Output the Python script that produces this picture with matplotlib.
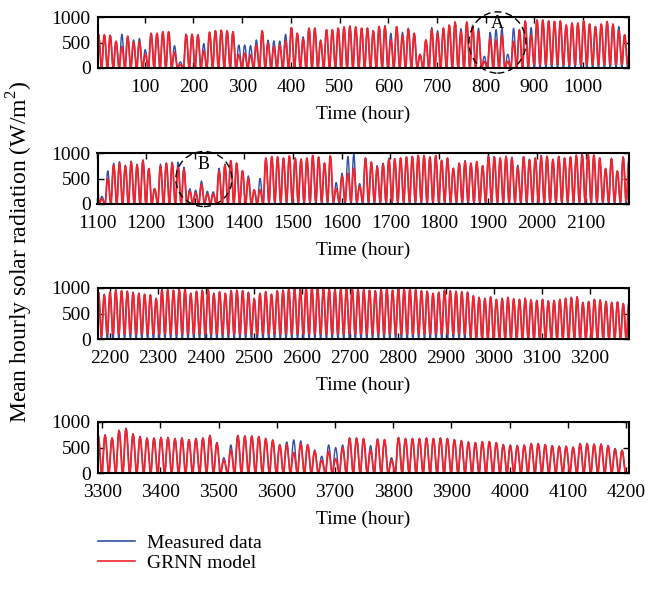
import numpy as np
import matplotlib
matplotlib.use("Agg")
import matplotlib.pyplot as plt
from matplotlib.patches import Ellipse
from matplotlib.lines import Line2D

plt.rcParams['font.family'] = ['Liberation Serif', 'DejaVu Serif']
plt.rcParams['mathtext.fontset'] = 'custom'
plt.rcParams['mathtext.rm'] = 'Liberation Serif'

# ---------------- data (daily peak values, 12 daylight hours per day) ----------------
meas_p1 = [660, 650, 640, 530, 660, 620, 550, 580, 360, 680, 680, 710, 710, 440, 120, 660,
           660, 650, 480, 700, 730, 740, 730, 710, 450, 450, 440, 550, 730, 545, 530, 530,
           660, 790, 680, 610, 780, 780, 550, 750, 750, 780, 805, 820, 805, 780,
           780, 730, 810, 830, 680, 810, 700, 780, 680, 270, 550, 790, 730, 780, 840, 900,
           770, 900, 840, 780, 230, 700, 750, 780, 270, 780, 715, 920, 790, 940, 940, 920,
           910, 920, 840, 880, 880, 920, 860, 810, 860, 910, 860, 810, 650]
grnn_p1 = [660, 650, 640, 520, 420, 620, 510, 510, 270, 680, 680, 710, 710, 310, 65, 660,
           660, 650, 340, 700, 730, 740, 730, 710, 260, 290, 260, 450, 730, 490, 420, 450,
           530, 790, 680, 570, 780, 780, 530, 750, 750, 780, 805, 820, 805, 780,
           780, 730, 810, 810, 550, 810, 640, 760, 680, 260, 550, 750, 680, 780, 840, 900,
           710, 900, 810, 715, 130, 580, 550, 650, 130, 520, 750, 920, 650, 940, 940, 920,
           910, 920, 840, 880, 880, 920, 860, 810, 860, 910, 860, 730, 650]

meas_p2 = [600, 150, 650, 800, 830, 760, 840, 780, 860, 700, 300, 780, 800, 820,
           820, 720, 300, 270, 450, 250, 240, 700, 780,
           850, 800, 650, 550, 250, 500,
           900, 930, 920, 900, 940, 900, 880, 900, 950, 920, 800, 940,
           420, 600, 930, 980, 400, 900, 820, 750, 800, 900, 890, 900, 920, 930, 950, 950,
           920, 950, 860, 900, 700, 800, 850, 800, 830, 750, 950, 930, 900, 940, 920, 760,
           930, 880, 900, 950, 940, 880, 930, 900, 920, 960, 980, 990, 960, 900, 700, 900,
           650, 920]
grnn_p2 = [550, 100, 500, 760, 800, 740, 820, 760, 860, 690, 300, 740, 800, 800,
           720, 680, 250, 220, 380, 200, 200, 650, 760,
           850, 800, 650, 500, 280, 280,
           900, 930, 920, 900, 940, 900, 880, 900, 950, 920, 800, 940,
           300, 550, 600, 700, 350, 900, 820, 720, 780, 880, 880, 900, 920, 930, 950, 950,
           920, 950, 850, 900, 700, 800, 830, 800, 830, 750, 920, 920, 900, 930, 900, 720,
           920, 860, 900, 930, 930, 870, 930, 900, 920, 950, 970, 990, 960, 900, 690, 880,
           640, 920]

meas_p3 = [880, 900, 970, 950, 940, 920, 900, 880, 870, 800, 980, 970, 960, 980, 980, 900,
           940, 960, 990, 900, 930, 900, 950, 960, 950, 920, 800, 900, 930, 880, 950, 960,
           990, 1000, 980, 1000, 1010, 1010, 1000, 990, 970, 980, 1000, 990, 980, 970, 960,
           950, 980, 990, 960, 1000, 980, 990, 970, 950, 940, 900, 920, 960, 950, 940, 930,
           920, 850, 820, 800, 830, 780, 800, 820, 790, 780, 800, 770, 760, 780, 750, 760,
           780, 800, 820, 830, 720, 740, 780, 770, 740, 720, 730, 700, 740]
grnn_p3 = [860, 920, 950, 940, 930, 900, 890, 870, 860, 790, 960, 960, 950, 960, 970, 890,
           930, 950, 970, 890, 920, 890, 940, 950, 940, 900, 790, 890, 920, 870, 940, 950,
           970, 990, 970, 990, 1000, 1000, 990, 980, 960, 970, 990, 980, 970, 960, 950,
           940, 970, 980, 950, 990, 970, 980, 960, 940, 930, 890, 910, 950, 940, 930, 920,
           910, 840, 810, 790, 820, 770, 790, 810, 780, 770, 790, 760, 750, 770, 740, 750,
           770, 790, 810, 820, 710, 730, 770, 760, 730, 710, 720, 690, 730]

meas_p4 = [750, 750, 690, 840, 880, 770, 720, 690, 690, 700, 700, 680, 690, 660, 680, 690,
           740, 600, 300, 550, 740, 730, 730, 720, 680, 650, 560, 610, 650, 630, 560, 450,
           330, 550, 500, 550, 690, 690, 680, 540, 670, 660, 300, 700, 680, 680, 680, 690,
           680, 690, 680, 660, 640, 610, 600, 620, 620, 600, 560, 550, 540, 550, 580, 580,
           560, 540, 530, 530, 510, 580, 580, 570, 570, 540, 480, 450]
grnn_p4 = [740, 740, 680, 830, 870, 760, 710, 680, 680, 690, 690, 670, 680, 650, 670, 680,
           730, 580, 250, 450, 730, 720, 720, 710, 670, 640, 550, 560, 400, 570, 550, 430,
           250, 420, 280, 500, 680, 680, 670, 450, 660, 650, 250, 690, 670, 670, 670, 680,
           670, 680, 670, 650, 630, 600, 590, 610, 610, 590, 550, 540, 530, 540, 570, 570,
           550, 530, 520, 520, 500, 570, 570, 560, 560, 530, 470, 440]

# shape of one 12-hour daylight period (fraction of the daily peak)
day_profile = [0.0, 0.2, 0.5, 0.75, 0.93, 1.0, 0.95, 0.8, 0.58, 0.33, 0.1, 0.0]
# GRNN night-time floor (start hour of segment, value)
grnn_floor_start = [0, 880, 1100, 1430, 2184, 2950]
grnn_floor_value = [0, 70, 0, 50, 100, 0]

panel_xlim = [(3, 1094), (1100, 2189), (2175, 3281), (3292, 4205)]
panel_xticks = [list(range(100, 1001, 100)), list(range(1100, 2101, 100)),
                list(range(2200, 3201, 100)), list(range(3300, 4201, 100))]
yticks = [0, 500, 1000]

# ---------------- build hourly series ----------------
meas_peak = np.array(meas_p1 + meas_p2 + meas_p3 + meas_p4, dtype=float)
grnn_peak = np.array(grnn_p1 + grnn_p2 + grnn_p3 + grnn_p4, dtype=float)
ndays = len(meas_peak)
hpd = len(day_profile)
hours = np.arange(ndays * hpd)
day = hours // hpd
prof = np.array(day_profile)[hours % hpd]
floor = np.array(grnn_floor_value, dtype=float)[
    np.searchsorted(grnn_floor_start, day * hpd, side='right') - 1]
measured = meas_peak[day] * prof
grnn = floor + (grnn_peak[day] - floor) * prof

# ---------------- figure ----------------
W, H = 666, 609
fig = plt.figure(figsize=(W / 100, H / 100), dpi=100)
blue = '#3050a8'
red = '#f0242c'
fs = 14

tops = [17, 153, 288, 422]
axh = 51
left, right = 97.5, 629
axes = []
for i, top in enumerate(tops):
    ax = fig.add_axes([left / W, 1 - (top + axh) / H, (right - left) / W, axh / H])
    ax.plot(hours, measured, color=blue, lw=1.0)
    ax.plot(hours, grnn, color=red, lw=1.3)
    ax.set_xlim(*panel_xlim[i])
    ax.set_ylim(0, 1000)
    ax.set_xticks(panel_xticks[i])
    ax.set_yticks(yticks)
    ax.tick_params(direction='in', top=True, right=True, length=4, width=1,
                   labelsize=fs)
    ax.tick_params(axis='x', pad=8)
    ax.tick_params(axis='y', pad=5)
    for s in ax.spines.values():
        s.set_linewidth(1.5)
    ax.set_xlabel('Time (hour)', fontsize=fs, labelpad=7)
    axes.append(ax)

# annotations A and B
e1 = Ellipse((824, 500), 117, 1200, fill=False, ls=(0, (5, 3)), lw=1.0,
             color='black', clip_on=False, zorder=5)
axes[0].add_patch(e1)
axes[0].text(824, 880, 'A', ha='center', va='center', fontsize=13, zorder=6)
e2 = Ellipse((1318, 490), 115, 1080, fill=False, ls=(0, (5, 3)), lw=1.0,
             color='black', clip_on=False, zorder=5)
axes[1].add_patch(e2)
axes[1].text(1318, 780, 'B', ha='center', va='center', fontsize=13, zorder=6)

fig.text(20 / W, 1 - 252 / H, 'Mean hourly solar radiation (W/m$^2$)',
         rotation=90, ha='center', va='center', fontsize=17)

handles = [Line2D([], [], color=blue, lw=1.2), Line2D([], [], color=red, lw=1.2)]
fig.legend(handles, ['Measured data', 'GRNN model'], loc='upper left',
           bbox_to_anchor=(98 / W, 1 - 534 / H), frameon=False, fontsize=fs,
           handlelength=1.9, handletextpad=0.6, labelspacing=0.15,
           borderpad=0, borderaxespad=0)

fig.savefig('out.png', dpi=100)
